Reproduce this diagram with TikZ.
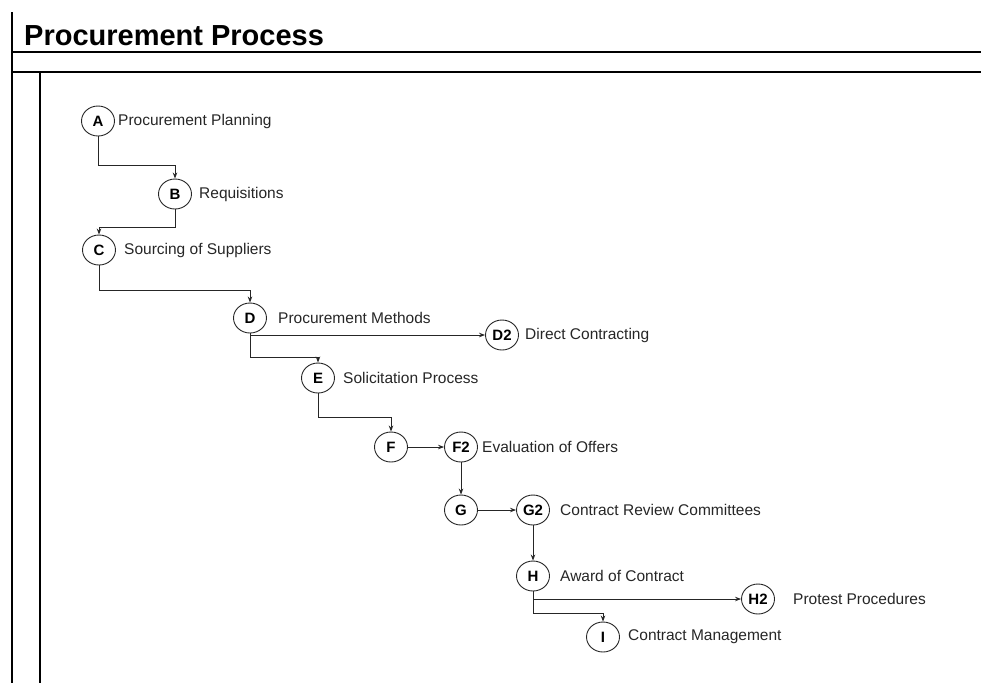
\documentclass[tikz,border=0pt]{standalone}
\usepackage{fontspec}
\setmainfont{Liberation Sans}
\usetikzlibrary{arrows.meta,shapes.geometric}
\begin{document}
\begin{tikzpicture}[x=1pt,y=-1pt,
  stage/.style={ellipse,draw=black!85,line width=0.9pt,minimum width=33pt,minimum height=30pt,inner sep=0pt,font=\fontsize{15}{15}\selectfont\bfseries},
  lbl/.style={anchor=west,inner sep=0pt,font=\fontsize{15.5}{16}\selectfont,text=black!85},
  conn/.style={draw=black!85,line width=0.9pt,-{Stealth[length=6pt,width=4.5pt]}},
  frame/.style={draw=black,line width=1.6pt}]
\useasboundingbox (0,0) rectangle (981,683);
% frame
\draw[frame] (12,12) -- (12,683);
\draw[frame] (12,52) -- (981,52);
\draw[frame,line width=1.3pt] (12,72) -- (981,72);
\draw[frame] (40,72) -- (40,683);
\node[anchor=base west,inner sep=0pt,font=\fontsize{29}{29}\selectfont\bfseries] (title) at (24,45) {Procurement Process};
% stages
\node[stage] (A) at (98,121) {A};
\node[stage] (B) at (175,194) {B};
\node[stage] (C) at (99,250) {C};
\node[stage] (D) at (250,318) {D};
\node[stage] (D2) at (502,335) {D2};
\node[stage] (E) at (318,378) {E};
\node[stage] (F) at (391,447) {F};
\node[stage] (F2) at (461,447) {F2};
\node[stage] (G) at (461,510) {G};
\node[stage] (G2) at (533,510) {G2};
\node[stage] (H) at (533,576) {H};
\node[stage] (H2) at (758,599) {H2};
\node[stage] (I) at (603,637) {I};
% labels
\node[lbl] (Al) at (118,121) {Procurement Planning};
\node[lbl] (Bl) at (199,194) {Requisitions};
\node[lbl] (Cl) at (124,250) {Sourcing of Suppliers};
\node[lbl] (Dl) at (278,318) {Procurement Methods};
\node[lbl] (D2l) at (525,335) {Direct Contracting};
\node[lbl] (El) at (343,378) {Solicitation Process};
\node[lbl] (F2l) at (482,447) {Evaluation of Offers};
\node[lbl] (G2l) at (560,510) {Contract Review Committees};
\node[lbl] (Hl) at (560,576) {Award of Contract};
\node[lbl] (H2l) at (793,599) {Protest Procedures};
\node[lbl] (Il) at (628,637) {Contract Management};
% connectors
\draw[conn] (A.south) -- ++(0,29) -| (B.north);
\draw[conn] (B.south) -- ++(0,18) -| (C.north);
\draw[conn] (C.south) -- ++(0,25) -| (D.north);
\draw[conn] (D.south) |- (D2.west);
\draw[conn] (D.south) -- ++(0,24) -| (E.north);
\draw[conn] (E.south) -- ++(0,24) -| (F.north);
\draw[conn] (F.east) -- (F2.west);
\draw[conn] (F2.south) -- (G.north);
\draw[conn] (G.east) -- (G2.west);
\draw[conn] (G2.south) -- (H.north);
\draw[conn] (H.south) |- (H2.west);
\draw[conn] (H.south) -- ++(0,22) -| (I.north);
\end{tikzpicture}
\end{document}
